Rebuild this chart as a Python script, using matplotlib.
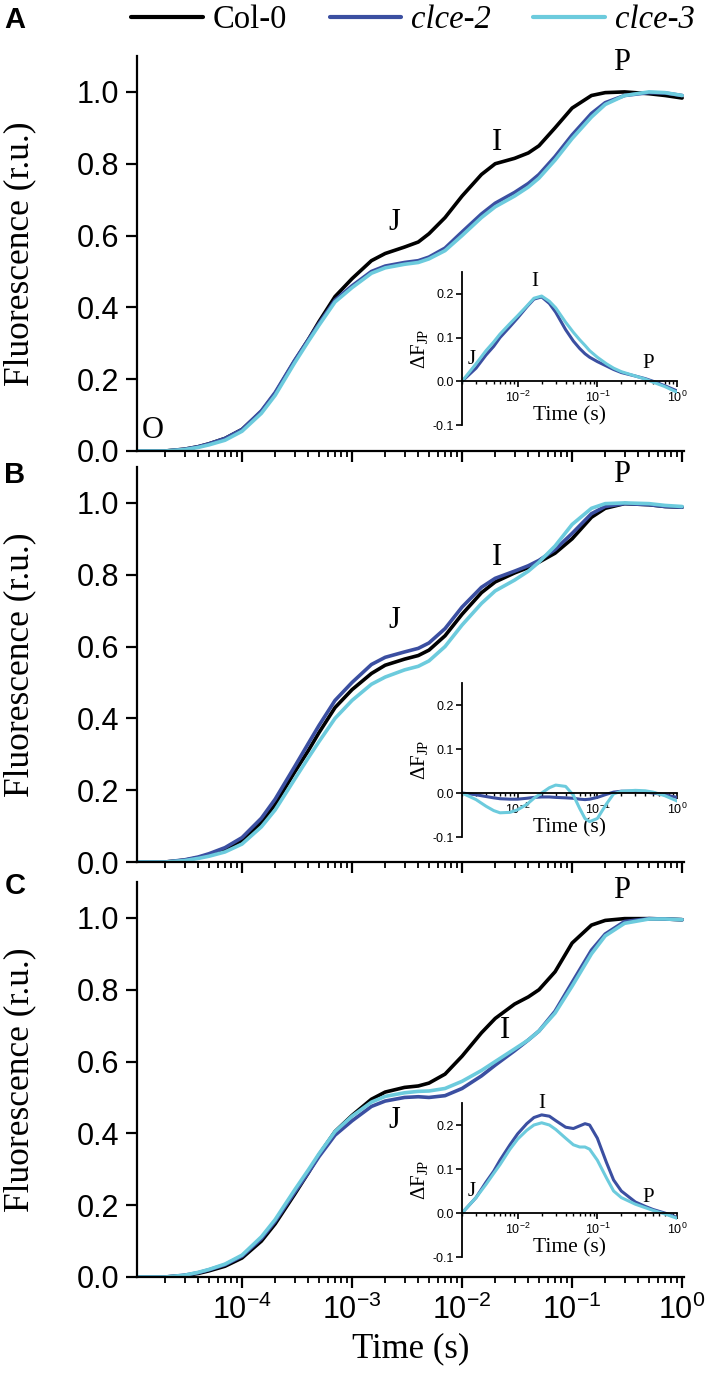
import matplotlib.pyplot as plt
from matplotlib.ticker import LogLocator, NullFormatter, FixedLocator

plt.rcParams['font.family'] = 'Liberation Sans'
plt.rcParams['mathtext.fontset'] = 'custom'
plt.rcParams['mathtext.rm'] = 'Liberation Serif'
plt.rcParams['mathtext.it'] = 'Liberation Serif:italic'
plt.rcParams['mathtext.sf'] = 'Liberation Sans'
SERIF = 'Liberation Serif'

# OJIP transients (time in s, fluorescence in relative units)
time = [1.1e-5, 1.5e-5, 2e-5, 3e-5, 4e-5, 5e-5, 7e-5, 1e-4, 1.5e-4, 2e-4,
        3e-4, 4e-4, 5e-4, 7e-4, 1e-3, 1.5e-3, 2e-3, 3e-3, 4e-3, 5e-3,
        7e-3, 1e-2, 1.5e-2, 2e-2, 3e-2, 4e-2, 5e-2, 7e-2, 0.1, 0.15,
        0.2, 0.3, 0.5, 0.7, 1.0]

col0_a = [0, 0, 0, 0.005, 0.012, 0.02, 0.035, 0.06, 0.11, 0.16,
          0.25, 0.31, 0.36, 0.43, 0.48, 0.53, 0.55, 0.568, 0.582, 0.605,
          0.65, 0.71, 0.77, 0.80, 0.815, 0.83, 0.85, 0.90, 0.955, 0.99,
          0.998, 1.0, 0.995, 0.99, 0.983]
clce2_a = [0, 0, 0, 0.005, 0.012, 0.02, 0.035, 0.06, 0.112, 0.163,
           0.252, 0.31, 0.355, 0.42, 0.46, 0.5, 0.515, 0.525, 0.53, 0.54,
           0.565, 0.61, 0.66, 0.69, 0.72, 0.745, 0.77, 0.82, 0.88, 0.94,
           0.97, 0.99, 0.998, 0.997, 0.99]
clce3_a = [0, 0, 0, 0.004, 0.01, 0.017, 0.03, 0.055, 0.105, 0.155,
           0.245, 0.305, 0.35, 0.415, 0.455, 0.495, 0.51, 0.52, 0.525, 0.535,
           0.558, 0.6, 0.65, 0.68, 0.71, 0.735, 0.76, 0.81, 0.87, 0.93,
           0.965, 0.99, 1.0, 0.998, 0.99]

col0_b = [0, 0, 0, 0.005, 0.012, 0.02, 0.035, 0.06, 0.11, 0.16,
          0.25, 0.31, 0.36, 0.43, 0.48, 0.525, 0.548, 0.565, 0.575, 0.59,
          0.63, 0.69, 0.75, 0.78, 0.805, 0.82, 0.835, 0.86, 0.9, 0.96,
          0.985, 0.998, 0.995, 0.99, 0.988]
clce2_b = [0, 0, 0, 0.006, 0.014, 0.023, 0.04, 0.068, 0.122, 0.175,
           0.265, 0.33, 0.38, 0.45, 0.5, 0.55, 0.57, 0.585, 0.595, 0.61,
           0.65, 0.71, 0.765, 0.79, 0.81, 0.825, 0.84, 0.87, 0.915, 0.97,
           0.99, 0.998, 0.995, 0.99, 0.988]
clce3_b = [0, 0, 0, 0.004, 0.01, 0.016, 0.028, 0.05, 0.098, 0.145,
           0.23, 0.29, 0.335, 0.4, 0.45, 0.495, 0.515, 0.535, 0.545, 0.56,
           0.6, 0.66, 0.72, 0.755, 0.785, 0.81, 0.835, 0.88, 0.94, 0.985,
           0.998, 1.0, 0.998, 0.993, 0.99]

col0_c = [0, 0, 0, 0.004, 0.01, 0.017, 0.03, 0.053, 0.1, 0.148,
          0.23, 0.29, 0.34, 0.405, 0.45, 0.495, 0.515, 0.528, 0.532, 0.54,
          0.565, 0.615, 0.68, 0.72, 0.76, 0.78, 0.8, 0.85, 0.93, 0.98,
          0.993, 0.998, 0.998, 0.997, 0.995]
clce2_c = [0, 0, 0, 0.005, 0.012, 0.02, 0.034, 0.058, 0.107, 0.155,
           0.235, 0.29, 0.335, 0.395, 0.435, 0.475, 0.49, 0.5, 0.502, 0.5,
           0.505, 0.525, 0.56, 0.59, 0.63, 0.66, 0.685, 0.74, 0.82, 0.91,
           0.955, 0.99, 0.998, 0.997, 0.995]
clce3_c = [0, 0, 0, 0.005, 0.013, 0.021, 0.036, 0.061, 0.112, 0.16,
           0.242, 0.298, 0.343, 0.405, 0.448, 0.487, 0.503, 0.513, 0.517, 0.518,
           0.525, 0.545, 0.575, 0.6, 0.635, 0.66, 0.685, 0.735, 0.81, 0.9,
           0.95, 0.985, 0.997, 0.997, 0.995]

# difference curves dF_JP (mutant - Col-0) for the insets
time_jp = [2e-3, 3e-3, 4e-3, 5e-3, 6e-3, 8e-3, 0.01, 0.013, 0.016, 0.02,
           0.025, 0.03, 0.04, 0.05, 0.06, 0.07, 0.08, 0.1, 0.13, 0.16,
           0.2, 0.3, 0.4, 0.5, 0.7, 1.0]
djp2_a = [0, 0.03, 0.06, 0.08, 0.1, 0.125, 0.145, 0.17, 0.188, 0.193,
          0.178, 0.158, 0.118, 0.092, 0.075, 0.063, 0.055, 0.045, 0.035, 0.027,
          0.02, 0.012, 0.006, 0.0, -0.01, -0.022]
djp3_a = [0, 0.04, 0.07, 0.09, 0.108, 0.132, 0.15, 0.172, 0.19, 0.195,
          0.183, 0.168, 0.135, 0.112, 0.095, 0.082, 0.07, 0.055, 0.04, 0.03,
          0.022, 0.012, 0.005, -0.002, -0.012, -0.025]
djp2_b = [0, -0.004, -0.008, -0.011, -0.013, -0.014, -0.014, -0.012, -0.01, -0.009,
          -0.009, -0.01, -0.011, -0.012, -0.014, -0.015, -0.014, -0.01, -0.003, 0.002,
          0.004, 0.004, 0.002, 0.0, -0.004, -0.01]
djp3_b = [0, -0.015, -0.03, -0.04, -0.045, -0.044, -0.038, -0.026, -0.012, 0.0,
          0.012, 0.018, 0.015, -0.005, -0.035, -0.058, -0.065, -0.058, -0.025, -0.002,
          0.004, 0.006, 0.005, 0.002, -0.006, -0.018]
djp2_c = [0, 0.035, 0.07, 0.095, 0.12, 0.155, 0.18, 0.203, 0.217, 0.223,
          0.22, 0.21, 0.195, 0.192, 0.198, 0.203, 0.2, 0.17, 0.115, 0.075,
          0.05, 0.025, 0.015, 0.008, 0.0, -0.01]
djp3_c = [0, 0.035, 0.065, 0.09, 0.11, 0.145, 0.168, 0.188, 0.2, 0.205,
          0.2, 0.19, 0.17, 0.155, 0.15, 0.15, 0.145, 0.12, 0.08, 0.05,
          0.035, 0.02, 0.012, 0.006, -0.002, -0.012]

labels = ['Col-0', 'clce-2', 'clce-3']
colors = ['black', '#3b4fa1', '#6ccbdd']
y_ticks = [0.0, 0.2, 0.4, 0.6, 0.8, 1.0]
x_ticks = [1e-4, 1e-3, 1e-2, 1e-1, 1]
x_ticklabels = [r'$\mathsf{10^{-4}}$', r'$\mathsf{10^{-3}}$', r'$\mathsf{10^{-2}}$',
                r'$\mathsf{10^{-1}}$', r'$\mathsf{10^{0}}$']
inset_yticks = [-0.1, 0.0, 0.1, 0.2]
inset_xticks = [1e-2, 1e-1, 1]
inset_xticklabels = [r'$\mathsf{10^{-2}}$', r'$\mathsf{10^{-1}}$', r'$\mathsf{10^{0}}$']

panels = [(col0_a, clce2_a, clce3_a), (col0_b, clce2_b, clce3_b), (col0_c, clce2_c, clce3_c)]
insets = [(djp2_a, djp3_a), (djp2_b, djp3_b), (djp2_c, djp3_c)]

W, H = 708, 1378
fig = plt.figure(figsize=(W / 100, H / 100), dpi=100)


def box(left, top, right, bottom):
    # pixel box -> figure fraction rect
    return [left / W, 1 - bottom / H, (right - left) / W, (bottom - top) / H]


main_boxes = [box(137, 56, 684, 451), box(137, 467, 684, 862), box(137, 882, 684, 1277)]
inset_boxes = [box(462, 272, 677, 425), box(462, 683, 677, 837), box(462, 1103, 677, 1257)]

main_axes = []
for i, (curves, rect) in enumerate(zip(panels, main_boxes)):
    ax = fig.add_axes(rect)
    for y, c, lab in zip(curves, colors, labels):
        ax.plot(time, y, color=c, lw=2.6, label=lab, solid_capstyle='round')
    ax.set_xscale('log')
    ax.set_xlim(1.11e-5, 1.04)
    ax.set_ylim(0, 1.1)
    ax.spines[['top', 'right']].set_visible(False)
    ax.spines[['left', 'bottom']].set_linewidth(1.6)
    ax.set_yticks(y_ticks)
    ax.set_yticklabels(['%.1f' % v for v in y_ticks])
    ax.xaxis.set_major_locator(FixedLocator(x_ticks))
    ax.xaxis.set_minor_locator(LogLocator(base=10, subs=(2, 3, 4, 5, 6, 7, 8, 9), numticks=20))
    ax.xaxis.set_minor_formatter(NullFormatter())
    ax.set_xticklabels(x_ticklabels)
    ax.tick_params(axis='both', which='major', direction='out', length=8, width=1.6,
                   labelsize=22, pad=5)
    ax.tick_params(axis='x', which='minor', direction='out', length=4.5, width=1.3)
    if i < 2:
        ax.tick_params(axis='x', labelbottom=False)
    main_axes.append(ax)

main_axes[2].set_xlabel('Time (s)', family=SERIF, fontsize=25, labelpad=4)

for curves, rect in zip(insets, inset_boxes):
    ax = fig.add_axes(rect)
    ax.patch.set_alpha(0)
    ax.plot(time_jp, curves[0], color=colors[1], lw=2.2)
    ax.plot(time_jp, curves[1], color=colors[2], lw=2.2)
    ax.set_xscale('log')
    ax.set_xlim(2e-3, 1.0)
    ax.set_ylim(-0.1, 0.25)
    ax.spines[['top', 'right']].set_visible(False)
    ax.spines['bottom'].set_position(('data', 0))
    ax.spines[['left', 'bottom']].set_linewidth(1.3)
    ax.set_yticks(inset_yticks)
    ax.set_yticklabels(['%.1f' % v for v in inset_yticks])
    ax.xaxis.set_major_locator(FixedLocator(inset_xticks))
    ax.xaxis.set_minor_locator(LogLocator(base=10, subs=(2, 3, 4, 5, 6, 7, 8, 9), numticks=20))
    ax.xaxis.set_minor_formatter(NullFormatter())
    ax.set_xticklabels(inset_xticklabels)
    ax.tick_params(axis='both', which='major', direction='out', length=4, width=1.2,
                   labelsize=9, pad=2)
    ax.tick_params(axis='x', which='minor', direction='out', length=2.5, width=1.0)
    ax.set_xlabel('Time (s)', family=SERIF, fontsize=15.5, labelpad=1)
    ax.set_ylabel(r'$\Delta$F$_{\rm JP}$', family=SERIF, fontsize=15, labelpad=2)


def fx(px):
    return px / W


def fy(py):
    return 1 - py / H


# y labels
for rect in main_boxes:
    fig.text(fx(20), rect[1] + rect[3] / 2, 'Fluorescence (r.u.)', family=SERIF,
             fontsize=25.5, rotation=90, ha='center', va='center')

# panel letters
for letter, py in zip(['A', 'B', 'C'], [20, 475, 886]):
    fig.text(fx(15), fy(py), letter, fontsize=21, fontweight='bold', ha='center', va='center')

# OJIP step labels on main panels
step_text = [('O', 153, 430), ('J', 394, 222), ('I', 497, 143), ('P', 622, 63),
             ('J', 394, 620), ('I', 497, 557), ('P', 622, 475),
             ('J', 394, 1120), ('I', 505, 1030), ('P', 622, 890)]
for s, px, py in step_text:
    fig.text(fx(px), fy(py), s, family=SERIF, fontsize=22, ha='center', va='center')

# step labels in insets
inset_text = [('I', 535, 282), ('J', 472, 360), ('P', 648, 363),
              ('I', 542, 1103), ('J', 472, 1192), ('P', 648, 1197)]
for s, px, py in inset_text:
    fig.text(fx(px), fy(py), s, family=SERIF, fontsize=15, ha='center', va='center')

# legend
handles = main_axes[0].get_lines()
leg = fig.legend(handles, labels, loc='center', bbox_to_anchor=(fx(413), fy(20)), ncol=3,
                 frameon=False, prop={'family': SERIF, 'size': 23.5}, handlelength=2.2,
                 handletextpad=0.3, columnspacing=1.3, borderpad=0, borderaxespad=0)
for t in leg.get_texts()[1:]:
    t.set_style('italic')
for ln in leg.get_lines():
    ln.set_linewidth(3)

fig.savefig('out.png', dpi=100)
